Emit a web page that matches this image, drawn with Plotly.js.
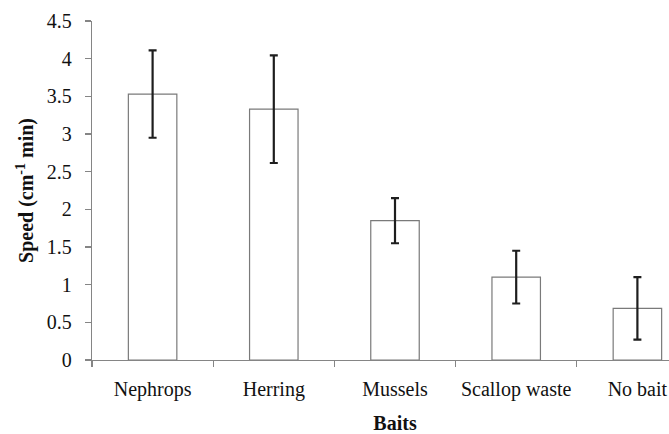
<!DOCTYPE html>
<html>
<head>
<meta charset="utf-8">
<script src="https://cdn.plot.ly/plotly-3.0.1.min.js"></script>
<style>
html, body { margin: 0; padding: 0; overflow: hidden; background: #fff; }
#chart { width: 710px; height: 434px; }
</style>
</head>
<body>
<div id="chart"></div>
<script>
var categories = ["Nephrops", "Herring", "Mussels", "Scallop waste", "No bait"];
var speeds = [3.53, 3.33, 1.85, 1.10, 0.685];
var errors = [0.58, 0.715, 0.30, 0.35, 0.415];
var yTickValues = [0, 0.5, 1, 1.5, 2, 2.5, 3, 3.5, 4, 4.5];

var trace = {
  type: "bar",
  x: categories,
  y: speeds,
  marker: { color: "#ffffff", line: { color: "#7a7a7a", width: 1.2 } },
  error_y: { type: "data", array: errors, visible: true, color: "#1e1e1e", thickness: 2.2, width: 4 },
  hoverinfo: "none"
};

var serif = "Liberation Serif";

var layout = {
  width: 710,
  height: 434,
  margin: { l: 92, r: 12, t: 21, b: 74 },
  paper_bgcolor: "#ffffff",
  plot_bgcolor: "#ffffff",
  showlegend: false,
  bargap: 0.6,
  xaxis: {
    type: "category",
    range: [-0.5, 4.5],
    showgrid: false,
    zeroline: false,
    showline: true,
    linecolor: "#858585",
    linewidth: 1.2,
    ticks: "outside",
    tickson: "boundaries",
    ticklen: 6,
    tickcolor: "#858585",
    tickwidth: 1.2,
    tickangle: 0,
    tickfont: { family: serif, size: 20, color: "#111" },
    ticklabelstandoff: 11,
    ticklabeloverflow: "allow",
    title: { text: "Baits", font: { family: serif, size: 20, color: "#111", weight: "bold" }, standoff: 17 }
  },
  yaxis: {
    range: [0, 4.5],
    tickvals: yTickValues,
    ticktext: yTickValues.map(function (v) { return String(v); }),
    showgrid: false,
    zeroline: false,
    showline: true,
    linecolor: "#858585",
    linewidth: 1.2,
    ticks: "outside",
    ticklen: 6,
    tickcolor: "#858585",
    tickwidth: 1.2,
    tickfont: { family: serif, size: 20, color: "#111" },
    ticklabelstandoff: 9,
    title: { text: "Speed (cm<sup>-1</sup> min)", font: { family: serif, size: 20, color: "#111", weight: "bold" }, standoff: 7 }
  }
};

Plotly.newPlot("chart", [trace], layout, { displayModeBar: false, staticPlot: true });
</script>
</body>
</html>
